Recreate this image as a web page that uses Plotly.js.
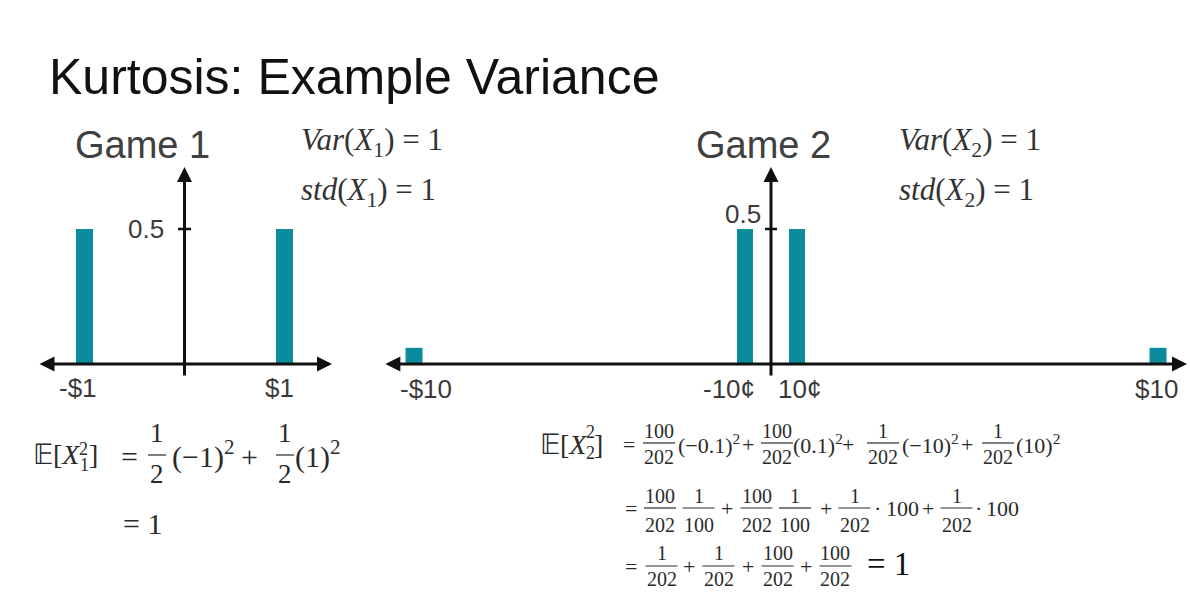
<!DOCTYPE html>
<html><head><meta charset="utf-8">
<script src="https://cdn.plot.ly/plotly-3.0.1.min.js"></script>
<style>html,body{margin:0;padding:0;background:#fff;} #chart{width:1190px;height:592px;}</style>
</head><body><div id="chart"></div>
<script>
// ---------------- data ----------------
const game1Outcomes = [-1, 1];
const game1Probs = [0.5, 0.5];
const game1Labels = ['-$1', '$1'];

const game2OuterOutcomes = [-10, 10];
const game2OuterProbs = [0.06, 0.06];      // bar height as drawn
const game2OuterLabels = ['-$10', '$10'];

const game2InnerOutcomes = [-0.1, 0.1];
const game2InnerProbs = [0.5, 0.5];
const game2InnerLabels = ['-10¢', '10¢'];

const yTickValue = 0.5;
const yTickLabel = '0.5';

// ---------------- styling helpers ----------------
const W = 1190, H = 592;
const TEAL = '#0A8C9D';
const INK = '#111111';
const GREY = '#3a3a3a';
const MATH = '#2a2a2a';
const SANS = 'Liberation Sans, Arial, sans-serif';
const SERIF = 'Liberation Serif, Times New Roman, serif';
const px = x => x / W;
const py = y => 1 - y / H;

const annotations = [];
const shapes = [];

function paperText(text, x, y, size, opts) {
  opts = opts || {};
  annotations.push({
    text: text, xref: 'paper', yref: 'paper', x: px(x), y: py(y),
    xanchor: opts.xanchor || 'center', yanchor: 'middle',
    showarrow: false, borderpad: 0, borderwidth: 0,
    font: { family: opts.family || SERIF, size: size, color: opts.color || MATH }
  });
}
function fraction(num, den, cx, yBar, halfW, size, dNum, dDen) {
  paperText(num, cx, yBar - dNum, size);
  paperText(den, cx, yBar + dDen, size);
  shapes.push({ type: 'line', xref: 'paper', yref: 'paper',
    x0: px(cx - halfW), x1: px(cx + halfW), y0: py(yBar), y1: py(yBar),
    line: { color: MATH, width: 1.2 } });
}
function arrow(xref, x, y, ax, ay, both) {
  annotations.push({
    text: '', xref: xref, yref: 'y', axref: xref, ayref: 'y',
    x: x, y: y, ax: ax, ay: ay, showarrow: true,
    arrowhead: 2, startarrowhead: 2, arrowside: both ? 'end+start' : 'end',
    arrowsize: 1, startarrowsize: 1, arrowwidth: 3, arrowcolor: INK, standoff: 0, startstandoff: 0
  });
}
function axisLabel(xref, x, y, text, xshift, yshift, xanchor) {
  annotations.push({
    text: text, xref: xref, yref: 'y', x: x, y: y, xshift: xshift, yshift: yshift,
    xanchor: xanchor || 'center', yanchor: 'middle', showarrow: false,
    font: { family: SANS, size: 26, color: GREY }
  });
}

// ---------------- bars ----------------
const traces = [
  { type: 'bar', x: game1Outcomes, y: game1Probs, width: 0.17, xaxis: 'x', yaxis: 'y',
    marker: { color: TEAL }, hoverinfo: 'skip', showlegend: false },
  { type: 'bar', x: game2OuterOutcomes, y: game2OuterProbs, width: 0.457, xaxis: 'x2', yaxis: 'y',
    marker: { color: TEAL }, hoverinfo: 'skip', showlegend: false },
  { type: 'bar', x: game2InnerOutcomes, y: game2InnerProbs, width: 0.0615, xaxis: 'x3', yaxis: 'y',
    marker: { color: TEAL }, hoverinfo: 'skip', showlegend: false }
];

// ---------------- hand-drawn style axes ----------------
arrow('x', 1.475, 0, -1.465, 0, true);
arrow('x', 0, 0.73, 0, -0.048, false);
arrow('x2', 10.78, 0, -10.81, 0, true);
arrow('x3', 0, 0.73, 0, -0.048, false);

shapes.push({ type: 'line', xref: 'x', yref: 'y', x0: -0.065, x1: 0.065, y0: yTickValue, y1: yTickValue, line: { color: INK, width: 2.5 } });
shapes.push({ type: 'line', xref: 'x3', yref: 'y', x0: -0.023, x1: 0.023, y0: yTickValue, y1: yTickValue, line: { color: INK, width: 2.5 } });

// tick labels
const g1Shift = [-7, -5];
game1Outcomes.forEach((v, i) => axisLabel('x', v, 0, game1Labels[i], g1Shift[i], -24));
const g2OuterShift = [12, -2];
game2OuterOutcomes.forEach((v, i) => axisLabel('x2', v, 0, game2OuterLabels[i], g2OuterShift[i], -25));
const g2InnerShift = [-16, 2];
game2InnerOutcomes.forEach((v, i) => axisLabel('x3', v, 0, game2InnerLabels[i], g2InnerShift[i], -25));
axisLabel('x', 0, yTickValue, yTickLabel, -19, 0, 'right');
axisLabel('x3', 0, yTickValue, yTickLabel, -8, 15, 'right');

// game titles
paperText('Game 1', 142, 145, 38, { family: SANS, color: '#404040' });
paperText('Game 2', 763, 145, 38, { family: SANS, color: '#404040' });

// variance / std statements
paperText('<i>Var</i>(<i>X</i><sub>1</sub>) = 1', 301, 142, 31, { xanchor: 'left', color: '#333' });
paperText('<i>std</i>(<i>X</i><sub>1</sub>) = 1', 301, 192, 31, { xanchor: 'left', color: '#333' });
paperText('<i>Var</i>(<i>X</i><sub>2</sub>) = 1', 899, 142, 31, { xanchor: 'left', color: '#333' });
paperText('<i>std</i>(<i>X</i><sub>2</sub>) = 1', 899, 192, 31, { xanchor: 'left', color: '#333' });

// ---------------- Game 1 second moment ----------------
paperText('𝔼[<i>X</i>', 80, 455, 28, { xanchor: 'right' });
paperText('2', 79, 449, 18, { xanchor: 'left' });
paperText('1', 80, 465, 18, { xanchor: 'left' });
paperText(']', 93, 455, 28);
paperText('=', 129.5, 456, 30);
fraction('1', '2', 157, 455, 9, 27, 22, 19);
paperText('(−1)<sup>2</sup>', 202.5, 455, 30);
paperText('+', 249, 456, 30);
fraction('1', '2', 285, 455, 9, 27, 22, 19);
paperText('(1)<sup>2</sup>', 317.5, 455, 30);
paperText('= 1', 142.5, 523, 30);

// ---------------- Game 2 second moment ----------------
const R1 = 444, R2 = 508, R3 = 566;
paperText('𝔼[<i>X</i>', 587, R1, 28, { xanchor: 'right' });
paperText('2', 586, R1 - 12, 18, { xanchor: 'left' });
paperText('2', 586, R1 + 9, 18, { xanchor: 'left' });
paperText(']', 598, R1, 28);

paperText('=', 629, R1, 22);
fraction('100', '202', 659, 443, 16, 20, 12, 14);
paperText('(−0.1)<sup>2</sup>', 708.5, R1, 22);
paperText('+', 748, R1, 22);
fraction('100', '202', 777, 443, 16, 20, 12, 14);
paperText('(0.1)<sup>2</sup>', 818, R1, 22);
paperText('+', 847.5, R1, 22);
fraction('1', '202', 883, 443, 16, 20, 12, 14);
paperText('(−10)<sup>2</sup>', 930, R1, 22);
paperText('+', 966.5, R1, 22);
fraction('1', '202', 998, 443, 16, 20, 12, 14);
paperText('(10)<sup>2</sup>', 1037.5, R1, 22);

paperText('=', 631, R2, 22);
fraction('100', '202', 660, R2, 16, 20, 12, 17);
fraction('1', '100', 698.5, R2, 16, 20, 12, 17);
paperText('+', 726.5, R2, 22);
fraction('100', '202', 756.5, R2, 16, 20, 12, 17);
fraction('1', '100', 795, R2, 16, 20, 12, 17);
paperText('+', 826, R2, 22);
fraction('1', '202', 854.5, R2, 16, 20, 12, 17);
paperText('·', 877, R2, 22);
paperText('100', 902, R2, 22);
paperText('+', 927.5, R2, 22);
fraction('1', '202', 956.5, R2, 16, 20, 12, 17);
paperText('·', 978, R2, 22);
paperText('100', 1002.5, R2, 22);

paperText('=', 631, R3, 22);
fraction('1', '202', 661.5, R3, 16, 20, 13, 13);
paperText('+', 688.5, R3, 22);
fraction('1', '202', 718.5, R3, 16, 20, 13, 13);
paperText('+', 747.5, R3, 22);
fraction('100', '202', 777.5, R3, 16, 20, 13, 13);
paperText('+', 805.5, R3, 22);
fraction('100', '202', 835.5, R3, 16, 20, 13, 13);
paperText('= 1', 888, 564, 33, { color: '#111' });

// ---------------- layout ----------------
const hidden = { visible: false, fixedrange: true };
const layout = {
  width: W, height: H,
  margin: { l: 0, r: 0, t: 0, b: 0, pad: 0 },
  paper_bgcolor: '#ffffff', plot_bgcolor: 'rgba(0,0,0,0)',
  font: { family: SANS, color: GREY },
  barmode: 'overlay',
  showlegend: false,
  title: { text: 'Kurtosis: Example Variance', xref: 'paper', yref: 'paper',
    x: px(49), xanchor: 'left', y: py(76), yanchor: 'middle',
    font: { family: SANS, size: 50, color: INK } },
  xaxis: Object.assign({ domain: [0, 360 / W], range: [-1.845, 1.755] }, hidden),
  xaxis2: Object.assign({ domain: [370 / W, 1], range: [-11.1828, 10.8602], anchor: 'y' }, hidden),
  xaxis3: Object.assign({ overlaying: 'x2', range: [-1.54231, 1.61154], anchor: 'y' }, hidden),
  yaxis: Object.assign({ domain: [0, 1], range: [(364 - H) / 270, 364 / 270] }, hidden),
  annotations: annotations,
  shapes: shapes
};

Plotly.newPlot('chart', traces, layout, { staticPlot: true, displayModeBar: false });
</script>
</body></html>
